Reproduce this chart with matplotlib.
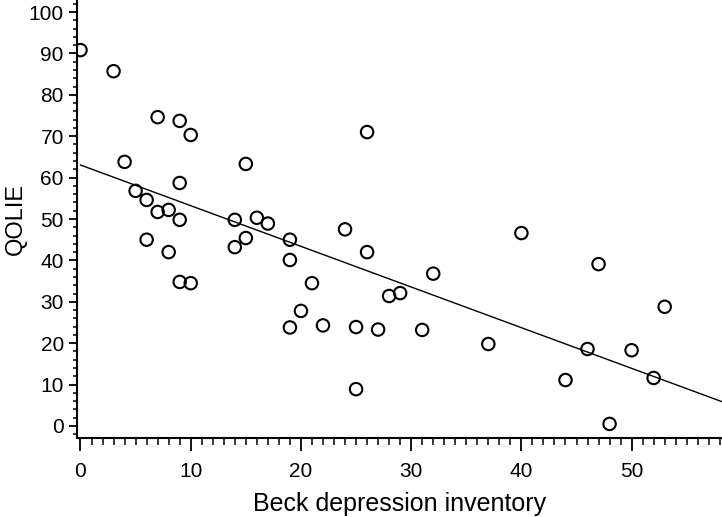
import numpy as np
import matplotlib.pyplot as plt
from matplotlib.ticker import MultipleLocator

plt.rcParams['font.family'] = ['Liberation Sans', 'DejaVu Sans']

# Beck depression inventory (x) vs QOLIE (y)
beck = [0, 3, 4, 5, 6, 6, 7, 7, 8, 8, 9, 9, 9, 9, 10, 10,
        14, 14, 15, 15, 16, 17, 19, 19, 19, 20, 21, 22, 24, 25, 25,
        26, 26, 27, 28, 29, 31, 32, 37, 40, 44, 46, 47, 48, 50, 52, 53]
qolie = [90.8, 85.7, 63.8, 56.8, 54.6, 45.0, 74.6, 51.7, 52.2, 42.0, 73.7, 58.7, 49.8, 34.8, 70.3, 34.5,
         49.8, 43.2, 63.3, 45.4, 50.3, 48.9, 45.0, 40.1, 23.8, 27.8, 34.5, 24.3, 47.5, 23.9, 8.9,
         71.0, 42.0, 23.3, 31.4, 32.1, 23.2, 36.8, 19.8, 46.6, 11.1, 18.6, 39.1, 0.5, 18.3, 11.6, 28.8]

slope, intercept = np.polyfit(beck, qolie, 1)

fig = plt.figure(figsize=(7.22, 5.17), dpi=100)
ax = fig.add_axes([0.1066, 0.1528, 0.8934, 0.8472])

ax.scatter(beck, qolie, s=80, facecolors='none', edgecolors='black', linewidths=1.5, zorder=3)

xl = np.array([0, 58.2])
ax.plot(xl, intercept + slope * xl, color='black', linewidth=1.0)

ax.set_xlim(-0.32, 58.2)
ax.set_ylim(-2.9, 102.9)

ax.xaxis.set_major_locator(MultipleLocator(10))
ax.xaxis.set_minor_locator(MultipleLocator(1))
ax.yaxis.set_major_locator(MultipleLocator(10))
ax.yaxis.set_minor_locator(MultipleLocator(2))

for s in ['top', 'right']:
    ax.spines[s].set_visible(False)
for s in ['left', 'bottom']:
    ax.spines[s].set_linewidth(1.5)

ax.tick_params(axis='x', which='major', length=9, width=1.3, labelsize=15, pad=8)
ax.tick_params(axis='x', which='minor', length=5, width=1.1)
ax.tick_params(axis='y', which='major', length=5.5, width=1.3, labelsize=15, pad=4)
ax.tick_params(axis='y', which='minor', length=3, width=1.1)

ax.set_xlabel('Beck depression inventory', fontsize=18, labelpad=8)
ax.set_ylabel('QOLIE', fontsize=17)
ax.yaxis.set_label_coords(-0.078, 0.5)

fig.savefig('out.png', dpi=100)
